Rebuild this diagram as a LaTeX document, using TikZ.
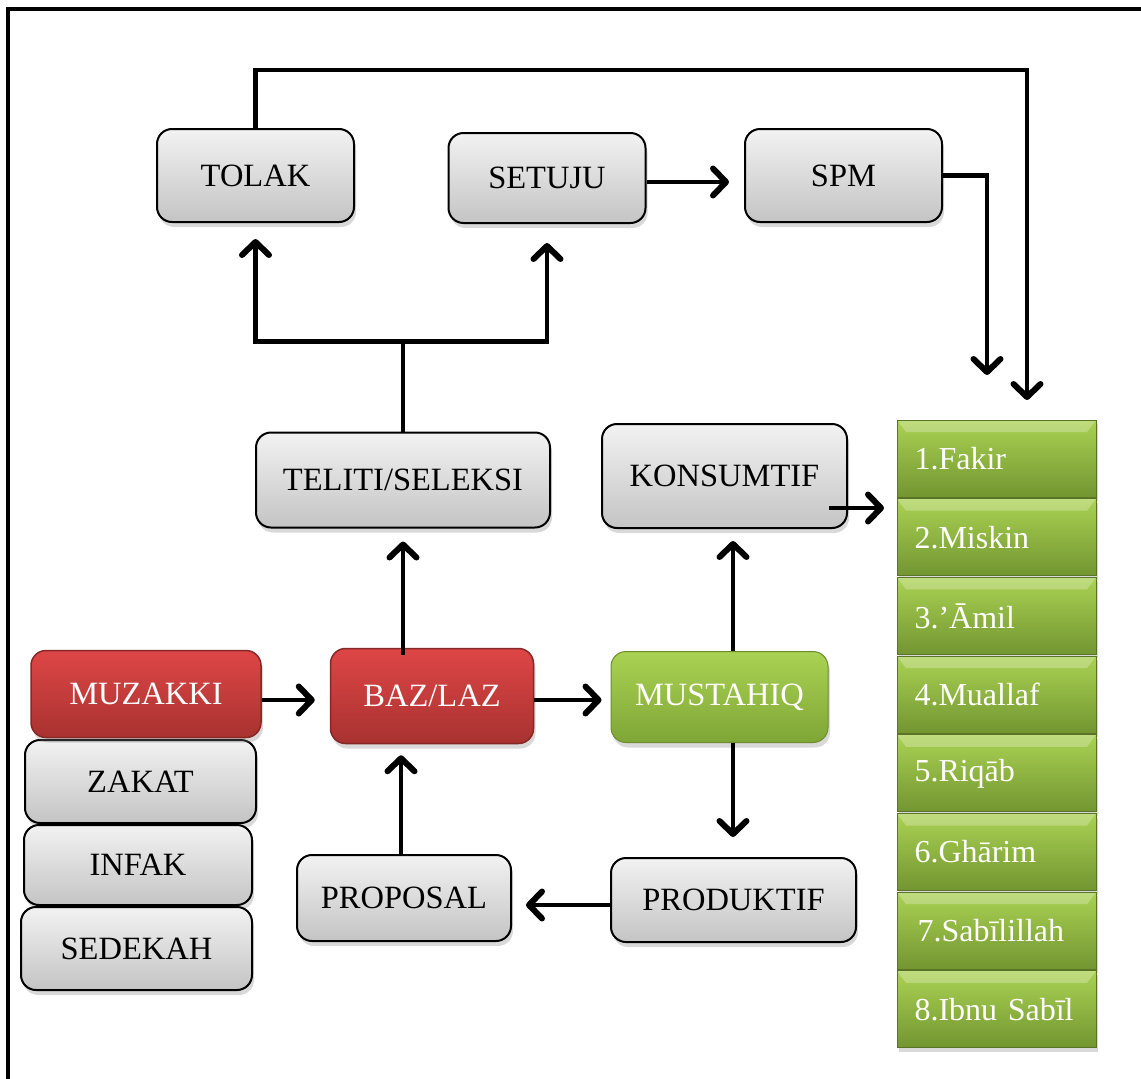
\documentclass[tikz,border=0pt]{standalone}
\usepackage{fontspec}
\setmainfont{Liberation Serif}
\usetikzlibrary{arrows.meta,shadows,calc}
\definecolor{gtop}{HTML}{F2F2F2}
\definecolor{gbot}{HTML}{C4C4C4}
\definecolor{rtop}{HTML}{DE4646}
\definecolor{rbot}{HTML}{A83230}
\definecolor{ntop}{HTML}{AAD253}
\definecolor{nbot}{HTML}{7FA636}
\begin{document}
\begin{tikzpicture}[x=1pt,y=-1pt,
 box/.style={rounded corners=15pt, font=\fontsize{32.5}{38}\selectfont, inner sep=0pt,
   drop shadow={shadow xshift=2pt,shadow yshift=-5pt,opacity=0.3}},
 graybox/.style={box, draw=black, line width=2pt, top color=gtop, bottom color=gbot, text=black},
 redbox/.style={box, draw=rbot!80!black, line width=1.5pt, top color=rtop, bottom color=rbot, text=white},
 greenbox/.style={box, draw=nbot!85!black, line width=1pt, top color=ntop, bottom color=nbot, text=white},
 bevel/.style={path picture={\fill[white,opacity=0.25] (path picture bounding box.north west) -- (path picture bounding box.north east) -- ([xshift=-9pt,yshift=-12pt]path picture bounding box.north east) -- ([xshift=9pt,yshift=-12pt]path picture bounding box.north west) -- cycle;}},
 listbox/.style={rectangle, draw=nbot!70!black, line width=1pt, top color=ntop, bottom color=nbot!90!black,
   text=white, font=\fontsize{32}{38}\selectfont, minimum width=199pt, minimum height=77pt,
   text width=164pt, align=left, inner sep=0pt, bevel,
   drop shadow={shadow xshift=2pt,shadow yshift=-4pt,opacity=0.3}},
 conn/.style={line width=4.5pt},
 arr/.style={conn, -{Straight Barb[length=13pt,width=27pt,line width=6pt,round]}}
]
\useasboundingbox (0,0) rectangle (1141,1079);
% frame
\draw[line width=4pt] (8,1079) -- (8,9) -- (1141,9);

% gray boxes
\node[graybox, minimum width=197pt, minimum height=93pt] (tolak) at (255.5,175.5) {TOLAK};
\node[graybox, minimum width=197pt, minimum height=90pt] (setuju) at (547,178) {SETUJU};
\node[graybox, minimum width=197pt, minimum height=93pt] (spm) at (843.5,175.5) {SPM};
\node[graybox, minimum width=294pt, minimum height=95pt] (tel) at (403,480) {TELITI/SELEKSI};
\node[graybox, minimum width=245pt, minimum height=104pt] (kons) at (724.5,476) {KONSUMTIF};
\node[graybox, minimum width=214pt, minimum height=86pt] (prop) at (404,898) {PROPOSAL};
\node[graybox, minimum width=245pt, minimum height=84pt] (prod) at (733.5,900) {PRODUKTIF};
\node[graybox, minimum width=231pt, minimum height=83pt] (zakat) at (140.5,781.5) {ZAKAT};
\node[graybox, minimum width=228pt, minimum height=80pt] (infak) at (138,865) {INFAK};
\node[graybox, minimum width=231pt, minimum height=83pt] (sedekah) at (136.5,948.5) {SEDEKAH};

% coloured boxes
\node[redbox, minimum width=230pt, minimum height=87pt] (muz) at (146,694) {MUZAKKI};
\node[redbox, minimum width=203pt, minimum height=95pt] (baz) at (432,696) {BAZ/LAZ};
\node[greenbox, minimum width=217pt, minimum height=91pt] (mus) at (719.5,697) {MUSTAHIQ};

% list
\node[listbox] (l1) at (996.5,458.5) {1.Fakir};
\node[listbox] (l2) at (996.5,537.2) {2.Miskin};
\node[listbox] (l3) at (996.5,615.9) {3.’Āmil};
\node[listbox] (l4) at (996.5,694.6) {4.Muallaf};
\node[listbox] (l5) at (996.5,773.3) {5.Riqāb};
\node[listbox] (l6) at (996.5,852.0) {6.Ghārim};
\node[listbox] (l7) at (996.5,930.7) {\hspace*{3pt}7.Sabīlillah};
\node[listbox] (l8) at (996.5,1009.4) {8.Ibnu Sabīl};

% connectors
\coordinate (d1) at (1027,400);
\coordinate (d2) at (987,375);
\coordinate (k) at (884,508);
\draw[arr] (tolak.north) -- ++(0,-58) -| (d1);
\draw[arr] (spm.east) -| (d2);
\draw[arr] ([yshift=-4pt]setuju.east) -- ([yshift=-4pt,xshift=-15pt]setuju.east -| spm.west);
\draw[conn] (tel.north) -- ++(0,-90) coordinate (j);
\draw[arr, shorten >=16pt] ([xshift=2pt]j) -| (tolak.south);
\draw[arr, shorten >=19pt] ([xshift=-2pt]j) -| (setuju.south);
\draw[arr, shorten >=13pt] ([yshift=-7pt]baz.north -| tel.south) -- (tel.south);
\draw[arr] ([yshift=-6pt]muz.east) -- ([yshift=-6pt,xshift=-15pt]muz.east -| baz.west);
\draw[arr] ([yshift=-4pt]baz.east) -- ([yshift=-4pt,xshift=-9pt]baz.east -| mus.west);
\draw[arr, shorten >=12pt] (mus.north -| 733,0) -- (kons.south -| 733,0);
\draw[arr, shorten >=20pt] (mus.south -| 733,0) -- (prod.north -| 733,0);
\draw[arr] ([yshift=-5pt]prod.west) -- ([yshift=-5pt,xshift=14pt]prod.west -| prop.east);
\draw[arr, shorten >=11pt] (prop.north -| 401,0) -- (baz.south -| 401,0);
\draw[arr] ($(kons.east)+(-19,32)$) -- (k);
\end{tikzpicture}
\end{document}
